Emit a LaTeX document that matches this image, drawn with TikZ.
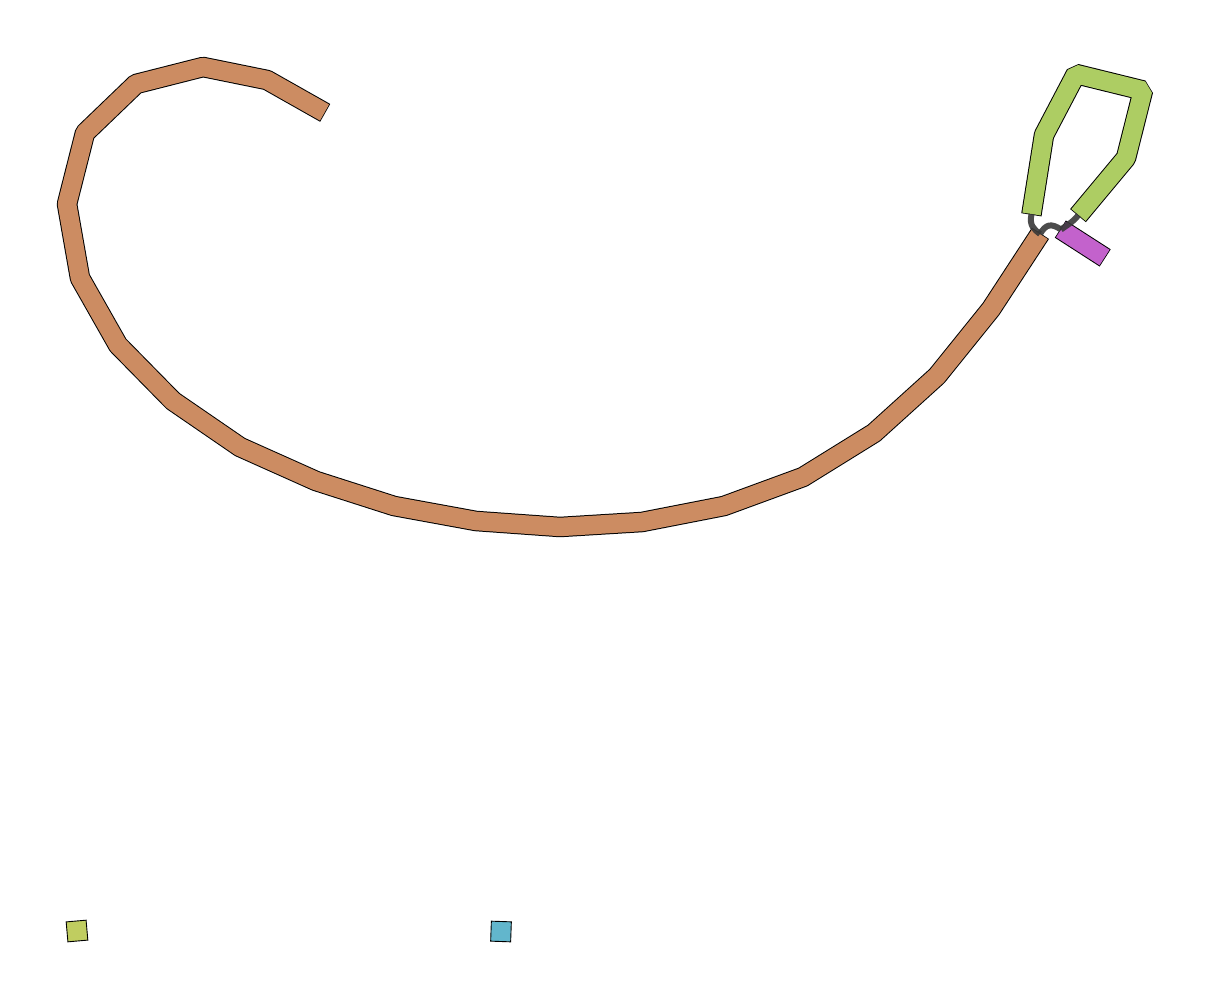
\documentclass[tikz,border=0pt]{standalone}
\usepackage{xcolor}
\usepackage{tikz}
\usetikzlibrary{calc}

\definecolor{contigbrown}{RGB}{204,140,98}
\definecolor{contiggreen}{RGB}{173,205,99}
\definecolor{contigpurple}{RGB}{195,98,204}
\definecolor{contiglime}{RGB}{192,205,96}
\definecolor{contigblue}{RGB}{98,182,204}

% one contig: black rim first, colour on top
\newcommand{\contig}[2]{%
  \draw[rim] #2;
  \draw[band, #1] #2;
}

\begin{document}
\begin{tikzpicture}[
  x=1pt, y=-1pt,
  rim/.style={line width=20.5pt, black, line join=bevel, shorten <=-0.8pt, shorten >=-0.8pt},
  band/.style={line width=18.5pt, line join=bevel},
  link/.style={line width=6pt, black!78, opacity=0.9},
  swatch/.style={draw, line width=0.9pt, minimum size=20pt, inner sep=0pt}
]
  \useasboundingbox (0,0) rectangle (1210,1000);

  % ends of the contigs
  \coordinate (brA) at (324.5,112.5);
  \coordinate (brB) at (1040,234);
  \coordinate (grA) at (1031.5,214);
  \coordinate (grB) at (1078.5,215);
  \coordinate (puA) at (1061,229.5);
  \coordinate (puB) at (1104.5,257.5);

  % long brown contig
  \contig{contigbrown}{(brA) -- (267,80) -- (203,67) -- (136,84) -- (85,133)
    -- (67,204) -- (80,278) -- (118,345) -- (173,401) -- (240,447) -- (316,481)
    -- (394,506) -- (476,521) -- (560,527) -- (642,522) -- (724,506) -- (803,477)
    -- (874,433) -- (937,376) -- (991,309) -- (brB)}

  % green loop
  \contig{contiggreen}{(grA) -- (1044,135) -- (1076,74) -- (1143,90.5) -- (1126,158) -- (grB)}

  % short purple contig
  \contig{contigpurple}{(puA) -- (puB)}

  % links
  \draw[link] (grA) .. controls (1029,226) and (1034,229) .. (brB);
  \draw[link] (brB) .. controls (1046,224) and (1051,223) .. (puA);
  \draw[link] (grB) .. controls (1072,223) and (1067,225) .. (puA);

  % lone contigs
  \node[swatch, fill=contiglime, rotate=5] (lime) at (77,931) {};
  \node[swatch, fill=contigblue, rotate=-2] (blue) at (501,931.5) {};

\end{tikzpicture}
\end{document}
